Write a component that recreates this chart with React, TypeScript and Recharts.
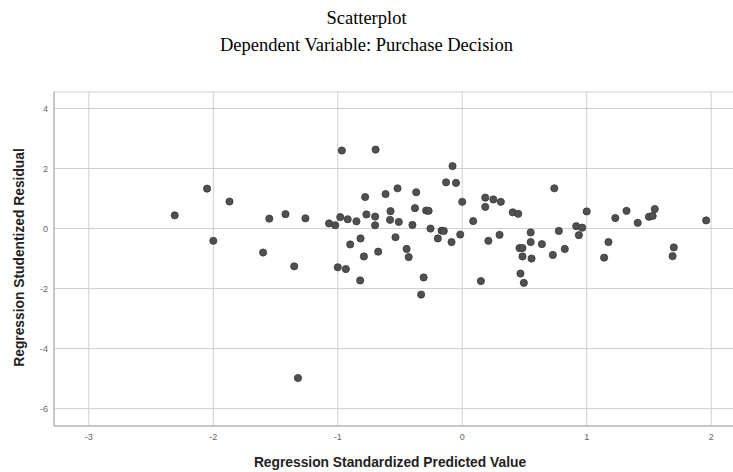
import { ScatterChart, Scatter, XAxis, YAxis, CartesianGrid } from 'recharts'

// Regression Standardized Predicted Value
const predicted = [
  -2.31, -2.05, -2.0, -1.87, -1.6, -1.55, -1.42, -1.35, -1.32, -1.26,
  -1.07, -1.02, -1.0, -0.98, -0.967, -0.935, -0.92, -0.9, -0.85, -0.82,
  -0.817, -0.79, -0.78, -0.77, -0.7, -0.7, -0.696, -0.675, -0.616, -0.576,
  -0.58, -0.536, -0.52, -0.51, -0.447, -0.43, -0.4, -0.38, -0.37, -0.33,
  -0.31, -0.29, -0.27, -0.255, -0.196, -0.166, -0.148, -0.13, -0.086, -0.078,
  -0.05, -0.016, 0.0, 0.088, 0.15, 0.185, 0.185, 0.21, 0.25, 0.3,
  0.31, 0.406, 0.45, 0.46, 0.484, 0.484, 0.468, 0.495, 0.55, 0.55,
  0.557, 0.64, 0.728, 0.74, 0.776, 0.824, 0.916, 0.937, 0.964, 1.0,
  1.14, 1.175, 1.23, 1.32, 1.41, 1.5, 1.53, 1.547, 1.69, 1.7,
  1.96,
]

// Regression Studentized Residual
const residual = [
  0.44, 1.33, -0.41, 0.9, -0.8, 0.33, 0.48, -1.26, -4.98, 0.34,
  0.17, 0.11, -1.29, 0.38, 2.6, -1.35, 0.31, -0.53, 0.24, -1.73,
  -0.33, -0.93, 1.05, 0.47, 0.4, 0.11, 2.63, -0.77, 1.15, 0.58,
  0.29, -0.29, 1.34, 0.22, -0.68, -0.95, 0.12, 0.68, 1.21, -2.2,
  -1.63, 0.6, 0.59, 0.0, -0.33, -0.07, -0.08, 1.54, -0.45, 2.08,
  1.52, -0.2, 0.89, 0.25, -1.75, 1.03, 0.72, -0.41, 0.97, -0.21,
  0.89, 0.54, 0.49, -0.65, -0.65, -0.93, -1.5, -1.81, -0.13, -0.45,
  -1.0, -0.52, -0.88, 1.34, -0.08, -0.68, 0.08, -0.22, 0.03, 0.57,
  -0.97, -0.45, 0.35, 0.59, 0.19, 0.39, 0.42, 0.65, -0.92, -0.63,
  0.27,
]

const xTicks = [-3, -2, -1, 0, 1, 2]
const yTicks = [-6, -4, -2, 0, 2, 4]

const data = predicted.map((x, i) => ({ x, y: residual[i] }))

const axisFont = '"Liberation Sans", Arial, sans-serif'
const serif = '"Liberation Serif", "Times New Roman", serif'

export default function App() {
  return (
    <div
      style={{
        position: 'fixed',
        left: 0,
        top: 0,
        width: 733,
        height: 472,
        overflow: 'hidden',
        background: '#fff',
      }}
    >
      <div
        style={{
          position: 'absolute', left: 0, top: 9, width: 733, textAlign: 'center',
          fontFamily: serif, fontSize: 18.5, lineHeight: '19px', color: '#000',
        }}
      >
        Scatterplot
      </div>
      <div
        style={{
          position: 'absolute', left: 0, top: 36, width: 733, textAlign: 'center',
          fontFamily: serif, fontSize: 18.5, lineHeight: '19px', color: '#000',
        }}
      >
        Dependent Variable: Purchase Decision
      </div>

      <div style={{ position: 'absolute', left: 0, top: 0 }}>
        <ScatterChart width={760} height={472} margin={{ top: 92, right: 14, bottom: 0, left: 0 }}>
          <CartesianGrid stroke="#cfcfcf" strokeWidth={1} />
          <XAxis
            type="number"
            dataKey="x"
            domain={[-3.28, 2.28]}
            ticks={xTicks}
            allowDataOverflow
            height={46}
            stroke="#a8a8a8"
            tickSize={4}
            tickMargin={4}
            tickLine={false}
            tick={{ fontSize: 9, fill: '#666', fontFamily: axisFont }}
          />
          <YAxis
            type="number"
            dataKey="y"
            domain={[-6.58, 4.55]}
            ticks={yTicks}
            allowDataOverflow
            width={54}
            stroke="#a8a8a8"
            tickSize={3}
            tickMargin={3}
            tickLine={false}
            tick={{ fontSize: 9, fill: '#666', fontFamily: axisFont }}
          />
          <Scatter
            data={data}
            isAnimationActive={false}
            shape={(p: any) => (
              <circle cx={p.cx} cy={p.cy} r={3.6} fill="#505050" stroke="#383838" strokeWidth={0.8} />
            )}
          />
        </ScatterChart>
      </div>

      <div
        style={{
          position: 'absolute', left: 240, top: 455, width: 300, textAlign: 'center',
          fontFamily: axisFont, fontSize: 13.8, fontWeight: 'bold', lineHeight: '15px', color: '#222',
          whiteSpace: 'nowrap',
        }}
      >
        Regression Standardized Predicted Value
      </div>
      <div
        style={{
          position: 'absolute', left: 19 - 150, top: 257 - 7.5, width: 300, height: 15,
          textAlign: 'center', transform: 'rotate(-90deg)',
          fontFamily: axisFont, fontSize: 13.8, fontWeight: 'bold', lineHeight: '15px', color: '#222',
          whiteSpace: 'nowrap',
        }}
      >
        Regression Studentized Residual
      </div>
    </div>
  )
}
